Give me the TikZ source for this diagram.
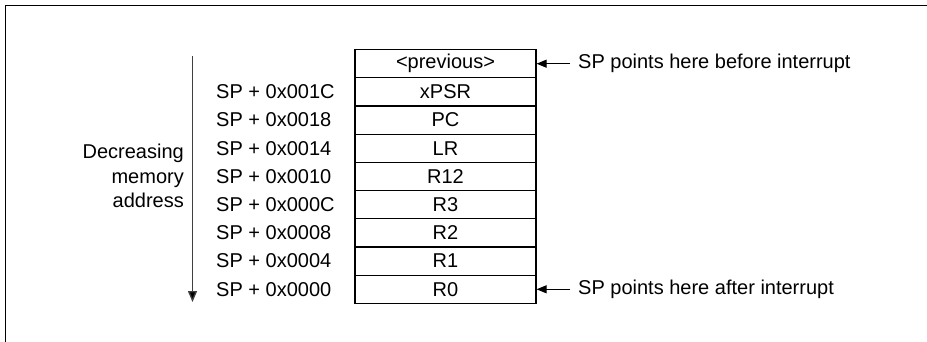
\documentclass[tikz,border=0pt]{standalone}
\usepackage{fontspec}
\setmainfont{Liberation Sans}
\usetikzlibrary{arrows.meta,positioning}
\begin{document}
\begin{tikzpicture}[x=1pt,y=-1pt,
  cell/.style={draw,line width=1.2pt,minimum width=181pt,minimum height=28.2pt,inner sep=0pt,anchor=north,font=\fontsize{20}{24}\selectfont},
  lbl/.style={anchor=west,inner sep=0pt,font=\fontsize{20}{24}\selectfont},
  ptr/.style={line width=1pt,-{Triangle[length=10pt,width=8pt]}},
  dirarrow/.style={line width=1.3pt,draw=black!75,-{Triangle[length=11pt,width=9pt,fill=black]}}]
\useasboundingbox (0,0) rectangle (927,342);
\draw[line width=1pt] (5,342) -- (5,6) -- (927,6);
% stack cells
\foreach \n/\t [count=\i from 0] in {prev/{<previous>},xpsr/xPSR,pc/PC,lr/LR,r12/R12,r3/R3,r2/R2,r1/R1,r0/R0}{
  \node[cell] (\n) at (445.5,49+28.2*\i) {\t};
}
% offset labels
\foreach \n/\t in {xpsr/001C,pc/0018,lr/0014,r12/0010,r3/000C,r2/0008,r1/0004,r0/0000}{
  \node[lbl] (off\n) at (216,0 |- \n.center) {SP + 0x\t};
}
% direction arrow
\coordinate (dtop) at (192.5,56);
\coordinate (dbot) at (192.5,302);
\draw[dirarrow] (dtop) -- (dbot);
\node[anchor=east,align=right,inner sep=0pt,font=\fontsize{20}{24.5}\selectfont] (dec) at (184,176) {Decreasing\\memory\\address};
% pointers
\node[lbl] (before) at (578,0 |- prev.center) {SP points here before interrupt};
\node[lbl] (after) at (578,0 |- r0.center) {SP points here after interrupt};
\draw[ptr] ([xshift=-8pt]before.west) -- (prev.east);
\draw[ptr] ([xshift=-8pt]after.west) -- (r0.east);
\end{tikzpicture}
\end{document}
